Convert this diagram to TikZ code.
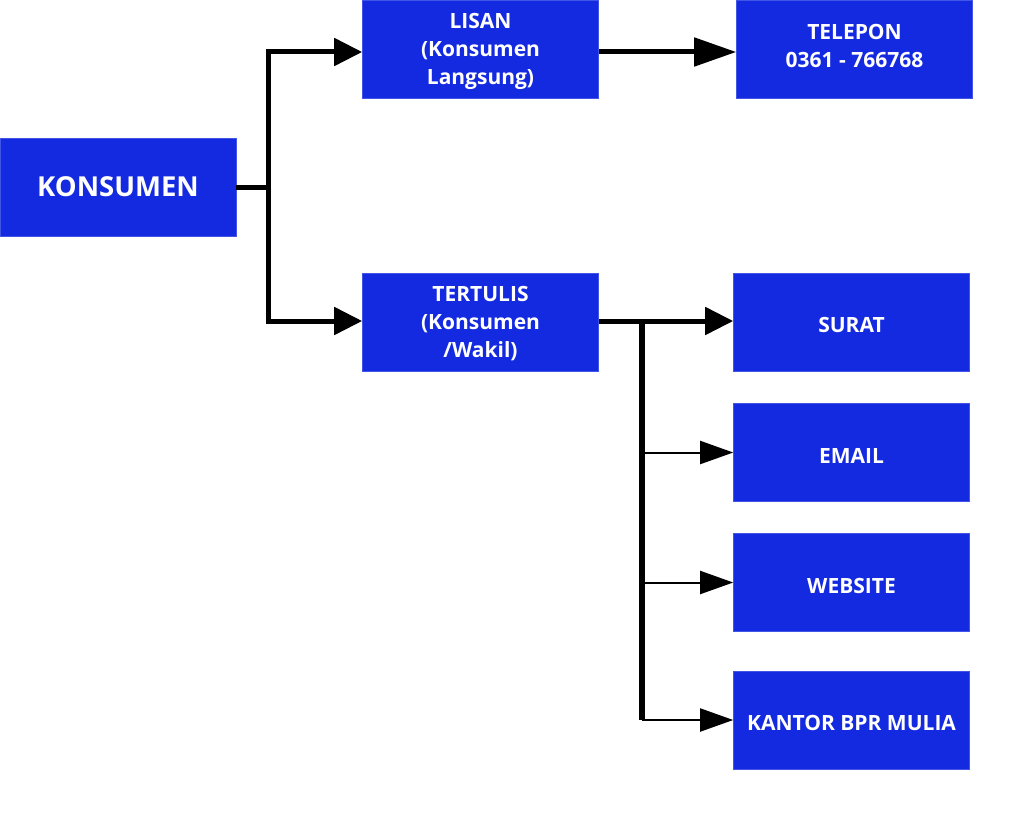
\documentclass[tikz,border=0pt]{standalone}
\usepackage{fontspec}
\setmainfont{Open Sans}
\usetikzlibrary{arrows.meta}
\definecolor{boxblue}{RGB}{20,42,224}
\begin{document}
\begin{tikzpicture}[x=1pt,y=-1pt,
  bluebox/.style={fill=boxblue,draw=boxblue!80!white,line width=0.6pt,text=white,font=\bfseries\fontsize{21}{28}\selectfont,
    align=center,minimum width=236pt,minimum height=98pt,inner sep=0pt},
  onebox/.style={bluebox,text height=21pt,text depth=0pt},
  thickline/.style={line width=5pt,line join=miter},
  thinline/.style={line width=2pt},
  bigtip/.style={-{Triangle[length=28pt,width=27pt]}},
  smalltip/.style={-{Triangle[length=33pt,width=23pt]}}]
\useasboundingbox (0,0) rectangle (1024,824);
\node[bluebox,font=\bfseries\fontsize{27.5}{32}\selectfont] (kons) at (118,187) {KONSUMEN};
\node[bluebox,text depth=0pt] (lisan) at (480.5,49) {LISAN\\(Konsumen\\Langsung)};
\node[bluebox,text depth=7pt] (telp) at (854.5,49) {TELEPON\\0361 - 766768};
\node[bluebox,text depth=1pt] (tert) at (480.5,322) {TERTULIS\\(Konsumen\\/Wakil)};
\node[onebox] (surat) at (851.5,322) {SURAT};
\node[onebox] (email) at (851.5,452.5) {EMAIL};
\node[onebox] (web) at (851.5,582.5) {WEBSITE};
\node[onebox] (kantor) at (851.5,720) {KANTOR BPR MULIA};
\coordinate (j1) at (268,187);
\coordinate (j2) at (642,321);
\coordinate (j3) at (642,720);
\draw[thickline] (kons.east) -- (j1);
\draw[thickline,bigtip] (j1) |- ([yshift=-3pt]lisan.west);
\draw[thickline,bigtip] (j1) |- ([yshift=1pt]tert.west);
\draw[thickline,-{Triangle[length=42pt,width=28pt]}] ([yshift=-3pt]lisan.east) -- ([yshift=-3pt]telp.west);
\draw[thickline,bigtip] ([yshift=1pt]tert.east) -- ([yshift=1pt]surat.west);
\draw[line width=6pt] (j2) -- (j3);
\draw[thinline,smalltip] (j2 |- email.west) -- (email.west);
\draw[thinline,smalltip] (j2 |- web.west) -- (web.west);
\draw[thinline,smalltip] (j3) -- (kantor.west);
\end{tikzpicture}
\end{document}
